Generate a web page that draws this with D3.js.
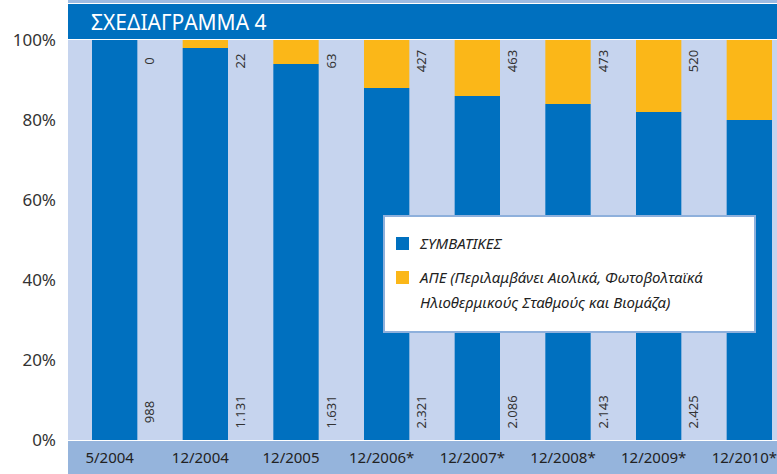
<!DOCTYPE html>
<meta charset="utf-8">
<style>
body { margin: 0; background: #fff; }
text { font-family: "Noto Sans", sans-serif; }
</style>
<svg width="777" height="474"></svg>
<script src="https://cdn.jsdelivr.net/npm/d3@7"></script>
<script>
// categories and values
var periods = ["5/2004", "12/2004", "12/2005", "12/2006*", "12/2007*", "12/2008*", "12/2009*", "12/2010*"];
var conventionalPct = [100, 98, 94, 88, 86, 84, 82, 80];
var resPct = [0, 2, 6, 12, 14, 16, 18, 20];
var conventionalMW = ["988", "1.131", "1.631", "2.321", "2.086", "2.143", "2.425", null];
var resMW = ["0", "22", "63", "427", "463", "473", "520", null];
var yTicks = [0, 20, 40, 60, 80, 100];

var svg = d3.select("svg"),
    plotLeft = 68, plotRight = 777,
    plotTop = 40, plotBottom = 440;

var x = d3.scaleBand().domain(periods).range([92, 772]).paddingInner(0.5).paddingOuter(0).align(0),
    y = d3.scaleLinear().domain([0, 100]).range([plotBottom, plotTop]);

// background strips
svg.append("rect").attr("x", plotLeft).attr("y", 0).attr("width", plotRight - plotLeft).attr("height", 3).attr("fill", "#9dbbe2");
svg.append("rect").attr("x", plotLeft).attr("y", 4).attr("width", plotRight - plotLeft).attr("height", 35).attr("fill", "#0070bf");
svg.append("rect").attr("x", plotLeft).attr("y", plotTop).attr("width", plotRight - plotLeft).attr("height", plotBottom - plotTop).attr("fill", "#c6d4ee");
svg.append("rect").attr("x", plotLeft).attr("y", plotBottom + 1).attr("width", plotRight - plotLeft).attr("height", 474 - plotBottom - 1).attr("fill", "#95b4dc");

svg.append("text")
    .attr("x", 91).attr("y", 30)
    .attr("fill", "#fff")
    .style("font-size", "21px")
    .text("ΣΧΕΔΙΑΓΡΑΜΜΑ 4");

// bars
var g = svg.append("g");
g.selectAll(".conv").data(periods).enter().append("rect")
    .attr("x", function(d) { return x(d); })
    .attr("width", x.bandwidth())
    .attr("y", function(d, i) { return y(conventionalPct[i]); })
    .attr("height", function(d, i) { return y(0) - y(conventionalPct[i]); })
    .attr("fill", "#0070bf");

g.selectAll(".res").data(periods).enter().append("rect")
    .attr("x", function(d) { return x(d); })
    .attr("width", x.bandwidth())
    .attr("y", function(d, i) { return y(conventionalPct[i] + resPct[i]); })
    .attr("height", function(d, i) { return y(conventionalPct[i]) - y(conventionalPct[i] + resPct[i]); })
    .attr("fill", "#fbb718");

// rotated value labels
function vlabel(arr, yy) {
  g.selectAll(null).data(periods).enter().filter(function(d, i) { return arr[i] != null; })
    .append("text")
      .attr("transform", function(d) { return "translate(" + (x(d) + x.bandwidth() + 17) + "," + yy + ") rotate(-90)"; })
      .attr("text-anchor", "middle")
      .attr("fill", "#333")
      .style("font-size", "13px")
      .text(function(d) { return arr[periods.indexOf(d)]; });
}
vlabel(resMW, 61);
vlabel(conventionalMW, 412);

// y axis labels
svg.append("g").selectAll("text").data(yTicks).enter().append("text")
    .attr("x", 56).attr("y", function(d) { return y(d); })
    .attr("dy", "0.35em")
    .attr("text-anchor", "end")
    .attr("fill", "#333")
    .style("font-size", "17px")
    .text(function(d) { return d + "%"; });

// x axis labels
svg.append("g").selectAll("text").data(periods).enter().append("text")
    .attr("x", function(d) { return x(d) + x.bandwidth() / 2 - 5; })
    .attr("y", 463)
    .attr("text-anchor", "middle")
    .attr("fill", "#222")
    .style("font-size", "15px")
    .text(function(d) { return d; });

// legend
var legend = svg.append("g");
legend.append("rect").attr("x", 384).attr("y", 216).attr("width", 371).attr("height", 116)
    .attr("fill", "#fff").attr("stroke", "#8eb0dc").attr("stroke-width", 2);
legend.append("rect").attr("x", 396).attr("y", 237).attr("width", 13).attr("height", 13).attr("fill", "#0070bf");
legend.append("rect").attr("x", 396).attr("y", 271).attr("width", 13).attr("height", 13).attr("fill", "#fbb718");
var lt = legend.append("g").attr("fill", "#222").style("font-size", "15px").style("font-style", "italic");
lt.append("text").attr("x", 420).attr("y", 249).text("ΣΥΜΒΑΤΙΚΕΣ");
lt.append("text").attr("x", 420).attr("y", 283).text("ΑΠΕ (Περιλαμβάνει Αιολικά, Φωτοβολταϊκά");
lt.append("text").attr("x", 420).attr("y", 308).text("Ηλιοθερμικούς Σταθμούς και  Βιομάζα)");
</script>
